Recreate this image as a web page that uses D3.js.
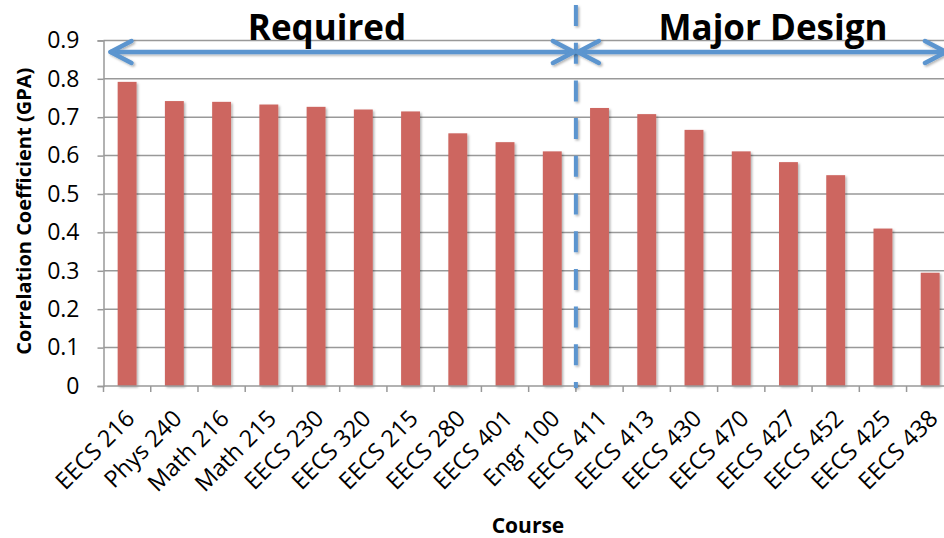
<!DOCTYPE html>
<html>
<head>
<meta charset="utf-8">
<script src="https://cdn.jsdelivr.net/npm/d3@7"></script>
<style>
  html, body { margin: 0; padding: 0; background: #fff; }
  svg { display: block; font-family: "Open Sans", Lato, sans-serif; }
</style>
</head>
<body>
<svg id="chart" width="944" height="538"></svg>
<script>
// Correlation of course grade with overall GPA
const requiredCourses = ["EECS 216", "Phys 240", "Math 216", "Math 215", "EECS 230",
  "EECS 320", "EECS 215", "EECS 280", "EECS 401", "Engr 100"];
const designCourses = ["EECS 411", "EECS 413", "EECS 430", "EECS 470", "EECS 427",
  "EECS 452", "EECS 425", "EECS 438"];
const requiredValues = [0.792, 0.742, 0.740, 0.733, 0.727, 0.720, 0.715, 0.658, 0.635, 0.611];
const designValues = [0.724, 0.708, 0.667, 0.611, 0.583, 0.549, 0.410, 0.295];
const yTicks = [0, 0.1, 0.2, 0.3, 0.4, 0.5, 0.6, 0.7, 0.8, 0.9];
const groupLabels = ["Required", "Major Design"];

const courses = requiredCourses.concat(designCourses);
const values = requiredValues.concat(designValues);

const svg = d3.select("#chart");
const plotLeft = 103.5, plotRight = 953.8, plotTop = 40.4, plotBottom = 386;

const x = d3.scaleBand().domain(courses).range([plotLeft, plotRight]).paddingInner(0.6).paddingOuter(0.3);
const y = d3.scaleLinear().domain([0, 0.9]).range([plotBottom, plotTop]);

// soft drop shadow; user-space region so thin lines keep it too
const defs = svg.append("defs");
const shadow = defs.append("filter").attr("id", "shadow")
  .attr("filterUnits", "userSpaceOnUse")
  .attr("x", 0).attr("y", 0).attr("width", 944).attr("height", 538);
shadow.append("feDropShadow").attr("dx", 1.5).attr("dy", 1.5).attr("stdDeviation", 1.2)
  .attr("flood-color", "#000").attr("flood-opacity", 0.3);

// gridlines
svg.append("g").selectAll("line").data(yTicks.slice(1)).join("line")
  .attr("x1", plotLeft).attr("x2", 944)
  .attr("y1", d => y(d)).attr("y2", d => y(d))
  .attr("stroke", "#999").attr("stroke-width", 1.5);

// y axis
const yAxis = svg.append("g").attr("transform", `translate(${plotLeft},0)`)
  .call(d3.axisLeft(y).tickValues(yTicks).tickSize(6).tickPadding(18)
    .tickFormat(d => d === 0 ? "0" : d3.format(".1f")(d)));
yAxis.select(".domain").attr("stroke", "#999").attr("stroke-width", 1.5);
yAxis.selectAll(".tick line").attr("stroke", "#999").attr("stroke-width", 1.5);
yAxis.selectAll(".tick text").attr("font-size", 23).attr("fill", "#000")
  .attr("font-family", "'Open Sans', sans-serif");

// bars
svg.append("g").selectAll("rect").data(courses).join("rect")
  .attr("x", d => x(d))
  .attr("width", x.bandwidth())
  .attr("y", (d, i) => y(values[i]))
  .attr("height", (d, i) => y(0) - y(values[i]))
  .attr("fill", "#CD6660")
  .attr("filter", "url(#shadow)");

// x axis
const band = x.step();
const xAxis = svg.append("g").attr("transform", `translate(0,${plotBottom})`);
xAxis.append("line").attr("x1", plotLeft).attr("x2", 944).attr("y1", 0).attr("y2", 0)
  .attr("stroke", "#999").attr("stroke-width", 1.5);
xAxis.selectAll(".tk").data(d3.range(courses.length + 1)).join("line")
  .attr("class", "tk")
  .attr("x1", i => plotLeft + i * band).attr("x2", i => plotLeft + i * band)
  .attr("y1", 0).attr("y2", 6)
  .attr("stroke", "#999").attr("stroke-width", 1.5);
xAxis.selectAll("text").data(courses).join("text")
  .attr("transform", d => `translate(${x(d) + x.bandwidth() / 2 + 9},${34}) rotate(-45)`)
  .attr("text-anchor", "end")
  .attr("font-size", 23.5)
  .attr("fill", "#000")
  .text(d => d);

// axis titles
svg.append("text")
  .attr("transform", `translate(31,${(plotTop + plotBottom) / 2 - 2}) rotate(-90)`)
  .attr("text-anchor", "middle").attr("font-size", 20).attr("font-weight", "bold")
  .text("Correlation Coefficient (GPA)");
svg.append("text")
  .attr("x", 528).attr("y", 533)
  .attr("text-anchor", "middle").attr("font-size", 21).attr("font-weight", "bold")
  .text("Course");

// group divider
const divX = band * requiredCourses.length + plotLeft;
svg.append("line")
  .attr("x1", divX).attr("x2", divX).attr("y1", 5).attr("y2", plotBottom + 2)
  .attr("stroke", "#5B95CF").attr("stroke-width", 4)
  .attr("stroke-dasharray", "21 16.7")
  .attr("filter", "url(#shadow)");

// double-headed arrows spanning each group
const arrowY = 52;
function arrow(x0, x1) {
  const g = svg.append("g").attr("filter", "url(#shadow)")
    .attr("stroke", "#5B95CF").attr("stroke-width", 4.5).attr("fill", "none")
    .attr("stroke-linecap", "round").attr("stroke-linejoin", "round");
  g.append("line").attr("x1", x0).attr("x2", x1).attr("y1", arrowY).attr("y2", arrowY);
  g.append("path").attr("d", `M${x0 + 21},${arrowY - 11} L${x0},${arrowY} L${x0 + 21},${arrowY + 11}`);
  g.append("path").attr("d", `M${x1 - 21},${arrowY - 11} L${x1},${arrowY} L${x1 - 21},${arrowY + 11}`);
}
arrow(plotLeft + 7, divX - 2);
arrow(divX + 2, 946);

// group labels
svg.append("text").attr("x", 327).attr("y", 40)
  .attr("text-anchor", "middle").attr("font-size", 35).attr("font-weight", "bold")
  .text(groupLabels[0]);
svg.append("text").attr("x", 773).attr("y", 40)
  .attr("text-anchor", "middle").attr("font-size", 35).attr("font-weight", "bold")
  .text(groupLabels[1]);
</script>
</body>
</html>
